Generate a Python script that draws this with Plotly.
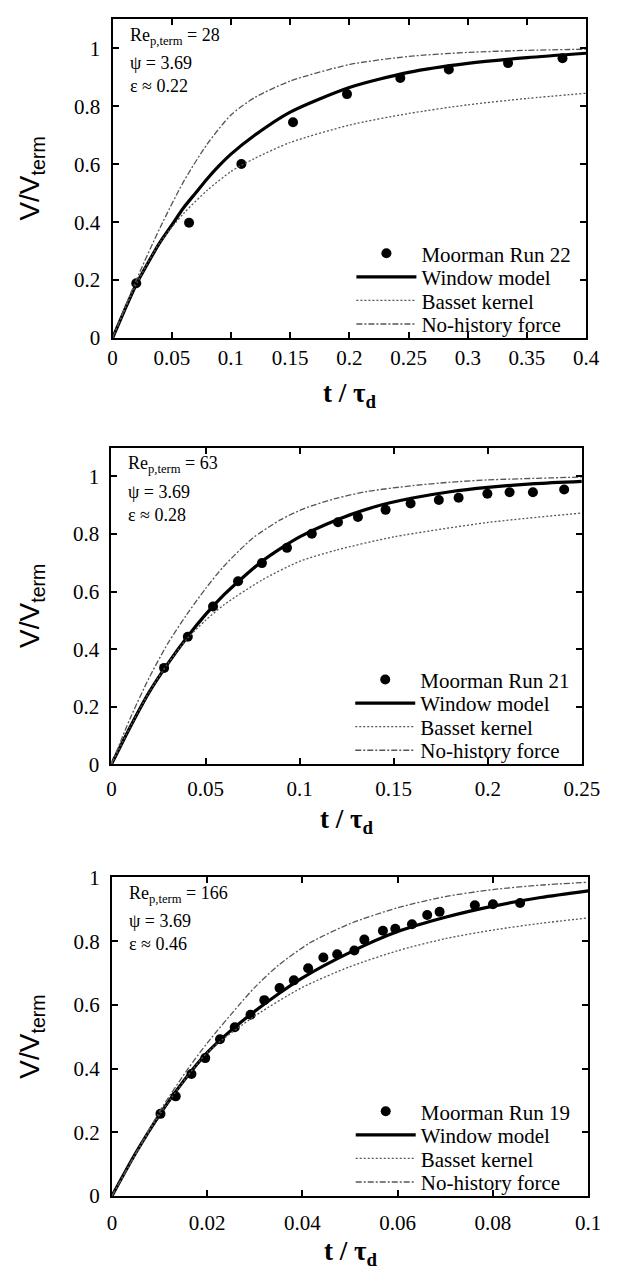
import plotly.graph_objects as go

# ---------------- data ----------------
# Panel 1: Re_p,term = 28
p1_run_t = [0.020, 0.0646, 0.1088, 0.1524, 0.198, 0.243, 0.284, 0.334, 0.380]
p1_run_v = [0.189, 0.398, 0.601, 0.745, 0.842, 0.898, 0.927, 0.949, 0.966]
p1_win_t = [0, 0.01, 0.02, 0.03, 0.04, 0.05, 0.06, 0.07, 0.08, 0.09, 0.1, 0.12, 0.15, 0.2, 0.25, 0.3, 0.35, 0.4]
p1_win_v = [0, 0.095, 0.185, 0.26, 0.33, 0.39, 0.45, 0.50, 0.55, 0.595, 0.635, 0.70, 0.78, 0.865, 0.917, 0.948, 0.968, 0.983]
p1_bas_t = [0, 0.02, 0.04, 0.06, 0.08, 0.1, 0.12, 0.15, 0.2, 0.25, 0.3, 0.35, 0.4]
p1_bas_v = [0, 0.185, 0.33, 0.43, 0.51, 0.575, 0.62, 0.675, 0.735, 0.775, 0.805, 0.827, 0.845]
p1_noh_t = [0, 0.02, 0.04, 0.06, 0.08, 0.1, 0.12, 0.15, 0.2, 0.25, 0.3, 0.35, 0.4]
p1_noh_v = [0, 0.20, 0.38, 0.54, 0.67, 0.77, 0.83, 0.887, 0.944, 0.972, 0.986, 0.993, 0.997]

# Panel 2: Re_p,term = 63
p2_run_t = [0.028, 0.0406, 0.054, 0.0673, 0.080, 0.0933, 0.1065, 0.1204, 0.131, 0.1457,
            0.159, 0.174, 0.1845, 0.1998, 0.2116, 0.224, 0.2406]
p2_run_v = [0.335, 0.443, 0.548, 0.636, 0.699, 0.752, 0.801, 0.841, 0.859, 0.884,
            0.906, 0.918, 0.926, 0.940, 0.945, 0.945, 0.955]
p2_win_t = [0, 0.01, 0.02, 0.03, 0.04, 0.05, 0.06, 0.07, 0.08, 0.09, 0.1, 0.12, 0.14, 0.16, 0.18, 0.2, 0.225, 0.25]
p2_win_v = [0, 0.13, 0.25, 0.35, 0.44, 0.52, 0.59, 0.65, 0.705, 0.75, 0.79, 0.85, 0.895, 0.925, 0.947, 0.962, 0.975, 0.983]
p2_bas_t = [0, 0.01, 0.02, 0.03, 0.04, 0.05, 0.06, 0.08, 0.1, 0.12, 0.15, 0.2, 0.25]
p2_bas_v = [0, 0.13, 0.25, 0.35, 0.435, 0.50, 0.555, 0.64, 0.705, 0.745, 0.79, 0.84, 0.873]
p2_noh_t = [0, 0.01, 0.02, 0.03, 0.04, 0.05, 0.06, 0.075, 0.09, 0.103, 0.12, 0.136, 0.16, 0.18, 0.2, 0.25]
p2_noh_v = [0, 0.16, 0.30, 0.42, 0.52, 0.61, 0.69, 0.785, 0.85, 0.89, 0.925, 0.948, 0.968, 0.98, 0.988, 0.998]

# Panel 3: Re_p,term = 166
p3_run_t = [0.0102, 0.0134, 0.0167, 0.0196, 0.0227, 0.0258, 0.0291, 0.032, 0.0352, 0.0382,
            0.0412, 0.0444, 0.0473, 0.0509, 0.053, 0.0569, 0.0595, 0.063, 0.0662, 0.0688,
            0.0762, 0.080, 0.0857]
p3_run_v = [0.258, 0.313, 0.383, 0.433, 0.492, 0.530, 0.569, 0.615, 0.653, 0.677,
            0.715, 0.749, 0.759, 0.771, 0.805, 0.833, 0.839, 0.853, 0.882, 0.892,
            0.913, 0.916, 0.920]
p3_win_t = [0, 0.005, 0.01, 0.015, 0.02, 0.025, 0.03, 0.035, 0.04, 0.05, 0.06, 0.07, 0.08, 0.09, 0.1]
p3_win_v = [0, 0.135, 0.255, 0.36, 0.45, 0.52, 0.58, 0.635, 0.685, 0.765, 0.83, 0.875, 0.91, 0.937, 0.958]
p3_bas_t = [0, 0.01, 0.02, 0.03, 0.04, 0.05, 0.06, 0.07, 0.08, 0.09, 0.1]
p3_bas_v = [0, 0.255, 0.45, 0.565, 0.655, 0.72, 0.77, 0.808, 0.835, 0.856, 0.873]
p3_noh_t = [0, 0.01, 0.016, 0.02, 0.0267, 0.03, 0.035, 0.0416, 0.05, 0.06, 0.07, 0.08, 0.09, 0.1]
p3_noh_v = [0, 0.265, 0.40, 0.48, 0.60, 0.655, 0.725, 0.795, 0.855, 0.905, 0.94, 0.962, 0.976, 0.985]

run_names = ["Moorman Run 22", "Moorman Run 21", "Moorman Run 19"]
info_re = ["28", "63", "166"]
info_eps = ["0.22", "0.28", "0.46"]
info_psi = "3.69"
x_ranges = [[0, 0.4], [0, 0.25], [0, 0.1]]
x_dticks = [0.05, 0.05, 0.02]
y_ranges = [[0, 1.1], [0, 1.1], [0, 1.0]]

panels = [
    (p1_run_t, p1_run_v, p1_win_t, p1_win_v, p1_bas_t, p1_bas_v, p1_noh_t, p1_noh_v),
    (p2_run_t, p2_run_v, p2_win_t, p2_win_v, p2_bas_t, p2_bas_v, p2_noh_t, p2_noh_v),
    (p3_run_t, p3_run_v, p3_win_t, p3_win_v, p3_bas_t, p3_bas_v, p3_noh_t, p3_noh_v),
]

# ---------------- layout geometry ----------------
W, H = 622, 1280
x_dom_px = [(111.7, 603.5), (110.5, 599.0), (111.0, 605.6)]
y_dom_px = [(7.5, 332.3), (444.0, 766.7), (882.0, 1206.7)]  # (top, bottom) in px
legend_rows_px = [86, 62, 38, 14]  # centre of legend rows above x axis
x_label_standoff = [0, 4, 7]

SERIF = "Liberation Serif"
SANS = "Liberation Sans"

fig = go.Figure()
layout = dict(
    width=W, height=H,
    margin=dict(l=0, r=0, t=0, b=0),
    paper_bgcolor="white", plot_bgcolor="white",
    showlegend=True,
    font=dict(family=SERIF, color="black"),
)
annotations = []

for i, (rt, rv, wt, wv, bt, bv, nt, nv) in enumerate(panels):
    ax = "" if i == 0 else str(i + 1)
    xa, ya = "x" + ax, "y" + ax
    legs = []
    for k in range(4):
        n = 4 * i + k + 1
        legs.append("legend" if n == 1 else "legend" + str(n))

    fig.add_trace(go.Scatter(x=rt, y=rv, mode="markers", name=run_names[i],
                             marker=dict(color="black", size=10), xaxis=xa, yaxis=ya,
                             legend=legs[0]))
    fig.add_trace(go.Scatter(x=wt, y=wv, mode="lines", name="Window model",
                             line=dict(color="black", width=3.2, shape="spline", smoothing=0.7),
                             xaxis=xa, yaxis=ya, legend=legs[1]))
    fig.add_trace(go.Scatter(x=bt, y=bv, mode="lines", name="Basset kernel",
                             line=dict(color="#555555", width=1.3, dash="2px,2px",
                                       shape="spline", smoothing=0.7),
                             xaxis=xa, yaxis=ya, legend=legs[2]))
    fig.add_trace(go.Scatter(x=nt, y=nv, mode="lines", name="No-history force",
                             line=dict(color="#555555", width=1.3, dash="6px,2px,2px,2px",
                                       shape="spline", smoothing=0.7),
                             xaxis=xa, yaxis=ya, legend=legs[3]))

    x0, x1 = x_dom_px[i]
    ytop, ybot = y_dom_px[i]
    axis_common = dict(showline=True, linecolor="black", linewidth=2, mirror="allticks",
                       ticks="inside", ticklen=6, tickwidth=1.5, tickcolor="black",
                       showgrid=False, zeroline=False,
                       tickfont=dict(family=SERIF, size=21, color="black"))
    layout["xaxis" + ax] = dict(axis_common, domain=[x0 / W, x1 / W], range=x_ranges[i],
                                dtick=x_dticks[i], tick0=0, anchor=ya,
                                ticklabelstandoff=x_label_standoff[i])
    layout["yaxis" + ax] = dict(axis_common, domain=[1 - ybot / H, 1 - ytop / H],
                                range=y_ranges[i], dtick=0.2, tick0=0, anchor=xa,
                                ticklabelstandoff=6)

    for k in range(4):
        ypx = ybot - legend_rows_px[k]
        layout[legs[k]] = dict(x=(x0 + 248) / W, xanchor="left", y=1 - ypx / H, yanchor="middle",
                               bgcolor="rgba(0,0,0,0)", borderwidth=0, itemwidth=60,
                               font=dict(family=SERIF, size=21, color="black"))

    xd, yd = xa + " domain", ya + " domain"
    # axis titles
    annotations.append(dict(text="<b>t / τ<sub>d</sub></b>", xref=xd, yref=yd, x=0.5, y=0,
                            yshift=-57, showarrow=False, xanchor="center", yanchor="middle",
                            font=dict(family=SERIF, size=27, color="black")))
    annotations.append(dict(text="V/V<sub>term</sub>", xref=xd, yref=yd, x=0, y=0.5,
                            xshift=-(x0 - 31), showarrow=False, textangle=-90,
                            xanchor="center", yanchor="middle",
                            font=dict(family=SANS, size=28, color="black")))
    # parameter text
    info = ["Re<sub>p,term</sub> = " + info_re[i], "ψ = " + info_psi, "ε ≈ " + info_eps[i]]
    for j, (txt, off) in enumerate(zip(info, [17, 44, 67])):
        annotations.append(dict(text=txt, xref=xd, yref=yd, x=0, y=1, xshift=15, yshift=-off,
                                showarrow=False, xanchor="left", yanchor="middle",
                                font=dict(family=SERIF, size=18, color="black")))

layout["annotations"] = annotations
fig.update_layout(**layout)
fig.write_html("out.html")
